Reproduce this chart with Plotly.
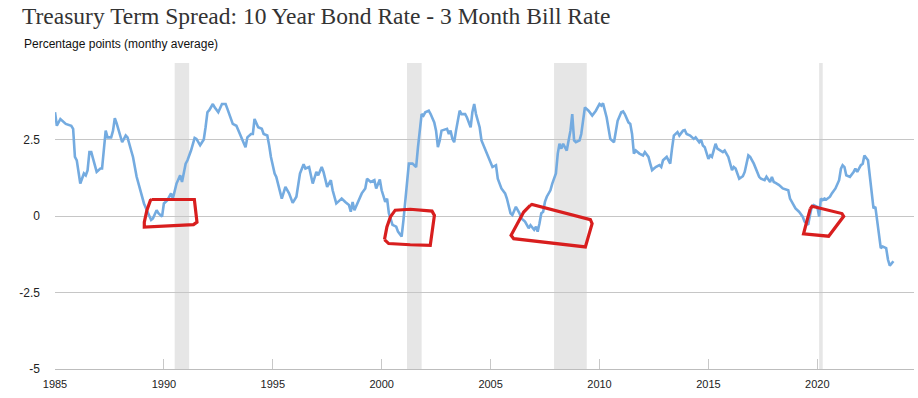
import datetime as dt
import plotly.graph_objects as go

# ---- data ----
months = [
"1985-01","1985-02","1985-04","1985-07","1985-10","1985-11","1985-12","1986-01","1986-03","1986-05",
"1986-06","1986-07","1986-08","1986-09","1986-12","1987-02","1987-03","1987-05","1987-06","1987-08",
"1987-09","1987-10","1987-11","1987-12","1988-02","1988-04","1988-05","1988-07","1988-08","1988-10",
"1988-12","1989-02","1989-04","1989-06","1989-07","1989-09","1989-10","1989-12","1990-01","1990-03",
"1990-05","1990-06","1990-08","1990-10","1990-11","1991-01","1991-02","1991-04","1991-06","1991-07",
"1991-09","1991-11","1991-12","1992-01","1992-02","1992-04","1992-05","1992-07","1992-09","1992-11",
"1992-12","1993-01","1993-03","1993-05","1993-07","1993-09","1993-10","1993-11","1994-01","1994-02",
"1994-03","1994-05","1994-07","1994-08","1994-10","1994-11","1994-12","1995-02","1995-03","1995-06",
"1995-08","1995-10","1995-12","1996-02","1996-04","1996-06","1996-07","1996-09","1996-11","1997-01",
"1997-02","1997-04","1997-05","1997-07","1997-09","1997-10","1997-12","1998-02","1998-03","1998-05",
"1998-07","1998-08","1998-09","1998-10","1998-12","1999-02","1999-04","1999-05","1999-07","1999-09",
"1999-10","1999-12","2000-01","2000-03","2000-04","2000-05","2000-07","2000-09","2000-10","2000-12",
"2001-01","2001-02","2001-03","2001-04","2001-06","2001-08","2001-09","2001-11","2001-12","2002-01",
"2002-03","2002-04","2002-06","2002-07","2002-08","2002-09","2002-10","2003-01","2003-02","2003-03",
"2003-04","2003-05","2003-06","2003-08","2003-09","2003-11","2003-12","2004-02","2004-03","2004-04",
"2004-05","2004-07","2004-08","2004-10","2004-12","2005-02","2005-04","2005-05","2005-07","2005-09",
"2005-10","2005-12","2006-01","2006-03","2006-05","2006-06","2006-08","2006-10","2006-11","2007-01",
"2007-02","2007-03","2007-04","2007-05","2007-06","2007-07","2007-08","2007-10","2007-11","2008-01",
"2008-02","2008-03","2008-04","2008-05","2008-07","2008-08","2008-09","2008-10","2008-11","2008-12",
"2009-02","2009-03","2009-04","2009-05","2009-07","2009-09","2009-11","2010-01","2010-02","2010-03",
"2010-05","2010-06","2010-07","2010-09","2010-11","2011-01","2011-02","2011-03","2011-05","2011-06",
"2011-07","2011-08","2011-09","2011-11","2012-01","2012-02","2012-04","2012-05","2012-06","2012-08",
"2012-10","2012-11","2012-12","2013-02","2013-03","2013-04","2013-05","2013-06","2013-08","2013-09",
"2013-11","2013-12","2014-01","2014-03","2014-05","2014-06","2014-08","2014-09","2014-10","2014-11",
"2015-01","2015-02","2015-03","2015-05","2015-06","2015-08","2015-09","2015-10","2015-12","2016-02",
"2016-03","2016-04","2016-06","2016-08","2016-09","2016-11","2016-12","2017-02","2017-04","2017-05",
"2017-06","2017-08","2017-09","2017-11","2017-12","2018-01","2018-02","2018-04","2018-06","2018-08",
"2018-09","2018-10","2018-12","2019-01","2019-03","2019-05","2019-06","2019-08","2019-09","2019-10",
"2019-11","2020-01","2020-02","2020-03","2020-04","2020-05","2020-06","2020-08","2020-09","2020-11",
"2021-01","2021-02","2021-03","2021-04","2021-05","2021-07","2021-09","2021-10","2021-11","2022-01",
"2022-02","2022-03","2022-05","2022-06","2022-07","2022-08","2022-09","2022-10","2022-11","2022-12",
"2023-01","2023-03","2023-04","2023-05","2023-06","2023-07",
]
spread = [
3.39,2.95,3.17,3.01,2.95,2.85,1.93,1.82,1.06,1.39,
1.33,1.49,2.09,2.09,1.44,1.55,1.55,2.79,2.57,2.57,
2.79,3.20,3.03,2.85,2.41,2.63,2.57,2.14,1.93,1.28,
0.84,0.41,0.14,-0.13,-0.08,0.19,0.09,-0.02,0.41,0.52,
0.74,0.57,1.06,1.33,1.11,1.71,1.82,2.14,2.55,2.52,
2.31,2.50,2.90,3.39,3.46,3.66,3.55,3.39,3.66,3.66,
3.50,3.35,3.01,2.95,2.68,2.41,2.25,2.57,2.68,2.68,
3.17,2.90,2.85,2.68,2.63,2.31,1.93,1.39,1.28,0.57,
0.95,0.74,0.43,0.63,1.39,1.69,1.55,1.60,1.06,1.44,
1.33,1.60,1.44,0.95,1.17,0.84,0.41,0.52,0.57,0.46,
0.36,0.14,0.46,0.19,0.46,0.74,0.90,1.22,1.11,1.17,
0.90,1.19,0.84,0.46,0.57,0.09,-0.29,-0.35,-0.51,-0.67,
-0.13,0.52,1.17,1.71,1.71,1.60,2.25,3.33,3.28,3.39,
3.44,3.33,3.06,2.79,2.25,2.47,2.79,2.85,2.68,2.79,
2.52,2.41,2.79,3.44,3.33,3.33,3.22,2.90,3.39,3.66,
3.33,2.90,2.47,2.20,1.93,1.60,1.66,1.22,0.90,0.74,
0.57,0.09,0.03,0.30,0.09,-0.08,-0.18,-0.40,-0.30,-0.45,
-0.35,-0.51,-0.24,0.09,0.14,0.46,0.63,0.84,1.06,1.39,
2.04,2.36,2.20,2.36,2.14,2.41,2.79,3.33,2.47,2.41,
2.47,2.68,3.06,3.55,3.44,3.28,3.44,3.66,3.61,3.68,
3.22,2.90,2.52,2.41,3.11,3.39,3.42,3.33,3.06,3.01,
2.68,2.04,2.14,2.04,1.98,2.09,1.93,1.71,1.50,1.60,
1.66,1.60,1.82,1.93,1.82,1.71,2.20,2.63,2.74,2.63,
2.79,2.81,2.68,2.63,2.52,2.57,2.41,2.49,2.30,2.25,
1.87,1.98,1.93,2.36,2.20,2.14,2.09,2.14,1.93,1.50,
1.60,1.55,1.22,1.30,1.44,1.98,1.93,1.71,1.44,1.28,
1.22,1.17,1.28,1.11,1.28,1.11,1.08,1.01,0.90,0.87,
0.84,0.57,0.36,0.25,0.14,-0.02,-0.18,-0.29,0.03,0.30,
0.36,0.30,-0.02,0.57,0.52,0.57,0.54,0.63,0.74,0.90,
1.17,1.55,1.66,1.60,1.33,1.28,1.44,1.55,1.44,1.66,
1.71,1.98,1.82,1.28,0.63,0.25,0.30,-0.13,-0.67,-1.05,
-1.00,-1.05,-1.43,-1.62,-1.55,-1.48,
]

recession_start = ["1990-07-01", "2001-03-01", "2007-12-01", "2020-02-01"]
recession_end = ["1991-03-01", "2001-11-01", "2009-06-01", "2020-04-01"]

y_tick_vals = [-5, -2.5, 0, 2.5, 5]
y_tick_text = ["-5", "-2.5", "0", "2.5", ""]

# hand-drawn red boxes (decimal year, value)
box_years = [
    [1989.45, 1991.40, 1991.52, 1991.36, 1989.10, 1989.10, 1989.22, 1989.38, 1989.45],
    [2000.13, 2000.24, 2000.40, 2000.62, 2001.31, 2002.31, 2002.42, 2002.32, 2002.23, 2001.31, 2000.32, 2000.13],
    [2006.82, 2006.90, 2009.58, 2009.66, 2009.35, 2006.06, 2005.94, 2006.52, 2006.82],
    [2019.68, 2019.76, 2021.13, 2021.21, 2020.52, 2019.37, 2019.53, 2019.68],
]
box_values = [
    [0.54, 0.54, -0.20, -0.28, -0.36, -0.20, 0.19, 0.51, 0.54],
    [-0.77, -0.36, -0.03, 0.19, 0.22, 0.16, 0.02, -0.47, -0.96, -0.94, -0.90, -0.77],
    [0.35, 0.38, -0.12, -0.25, -1.01, -0.74, -0.63, 0.13, 0.35],
    [0.24, 0.32, 0.08, -0.01, -0.66, -0.58, -0.14, 0.24],
]

title_text = "Treasury Term Spread: 10 Year Bond Rate - 3 Month Bill Rate"
subtitle_text = "Percentage points (monthy average)"


def dec_year_to_date(y):
    yr = int(y)
    start = dt.datetime(yr, 1, 1)
    end = dt.datetime(yr + 1, 1, 1)
    return start + (end - start) * (y - yr)


dates = [m + "-01" for m in months]

fig = go.Figure()
fig.add_trace(go.Scatter(
    x=dates, y=spread, mode="lines",
    line=dict(color="#74abe0", width=2.6),
    showlegend=False, hoverinfo="x+y",
))

for bx, bv in zip(box_years, box_values):
    fig.add_trace(go.Scatter(
        x=[dec_year_to_date(v) for v in bx], y=bv, mode="lines",
        line=dict(color="#d81e1e", width=3.2),
        showlegend=False, hoverinfo="skip",
    ))

for s, e in zip(recession_start, recession_end):
    fig.add_shape(type="rect", xref="x", yref="paper", x0=s, x1=e, y0=0, y1=1,
                  fillcolor="#e6e6e6", line=dict(width=0), layer="below")

W, H = 918, 398
ml, mr, mt, mb = 55, 4, 63, 29

fig.update_layout(
    width=W, height=H,
    margin=dict(l=ml, r=mr, t=mt, b=mb, autoexpand=False),
    paper_bgcolor="white", plot_bgcolor="white",
    font=dict(family="Liberation Sans, Arial, sans-serif", color="#222"),
    title=dict(text=title_text, x=22 / W, xref="container", xanchor="left",
               y=1 - 15.5 / H, yref="container", yanchor="middle",
               font=dict(family="Liberation Serif, Times New Roman, serif", size=23.5, color="#333")),
    annotations=[dict(text=subtitle_text, xref="paper", yref="paper",
                      x=(22 - ml) / (W - ml - mr), y=1 + (mt - 44) / (H - mt - mb),
                      xanchor="left", yanchor="middle", showarrow=False,
                      font=dict(size=12, color="#111"))],
    xaxis=dict(
        type="date", range=["1985-01-01", "2024-06-10"],
        tick0="1985-01-01", dtick="M60", tickformat="%Y",
        showgrid=False, zeroline=False,
        showline=True, linecolor="#bdbdbd", linewidth=1,
        ticks="inside", ticklen=10, tickcolor="#c8c8c8", tickwidth=1,
        tickfont=dict(size=11, color="#222"), ticklabelstandoff=5,
    ),
    yaxis=dict(
        range=[-5, 5], tickvals=y_tick_vals, ticktext=y_tick_text,
        showgrid=True, gridcolor="#c6c6c6", gridwidth=1, zeroline=False,
        tickfont=dict(size=12, color="#222"), ticklabelstandoff=14,
        showline=False,
    ),
)

# remove the browser's default 8px page margin so the figure fills the window
fig.write_html("out.html", config={"displayModeBar": False},
               post_script="document.body.style.margin='0';")
